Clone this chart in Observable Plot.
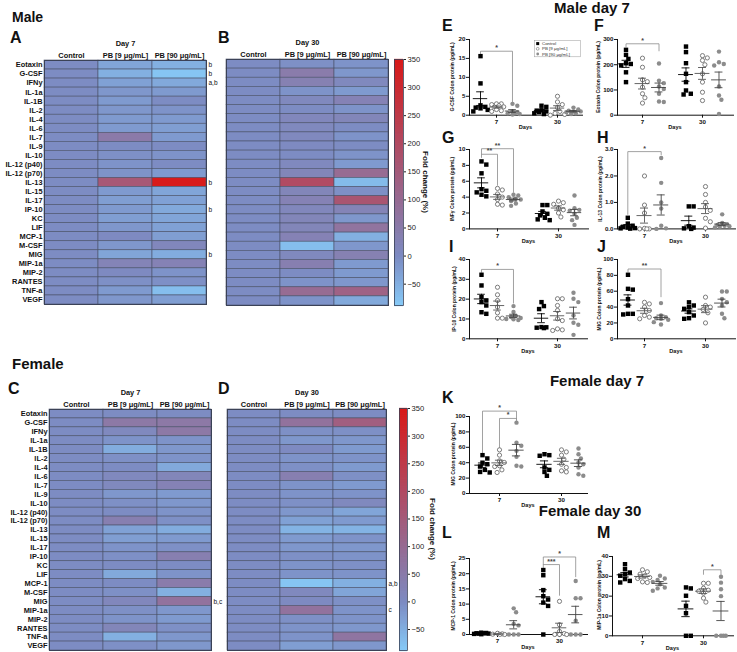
<!DOCTYPE html>
<html><head><meta charset="utf-8">
<script src="https://cdn.jsdelivr.net/npm/d3@7"></script>
<script src="https://cdn.jsdelivr.net/npm/@observablehq/plot@0.6"></script>
<style>
body{margin:0;background:#fff;}
#root{position:relative;width:737px;height:652px;overflow:hidden;background:#fff;font-family:"Liberation Sans",Arial,Helvetica,sans-serif;}
.t{position:absolute;font-weight:bold;line-height:1;white-space:nowrap;color:#111;}
.w{position:absolute;overflow:visible;}
.w svg{max-width:none !important;display:block;}
</style></head><body><div id="root"></div>
<script>
// ---------------- DATA ----------------
const cytokines = ["Eotaxin","G-CSF","IFNy","IL-1a","IL-1B","IL-2","IL-4","IL-6","IL-7","IL-9","IL-10","IL-12 (p40)","IL-12 (p70)","IL-13","IL-15","IL-17","IP-10","KC","LIF","MCP-1","M-CSF","MIG","MIP-1a","MIP-2","RANTES","TNF-a","VEGF"];
const columns = ["Control","PB [9 μg/mL]","PB [90 μg/mL]"];
const controlFold = [0,0,0,0,0,0,0,0,0,0,0,0,0,0,0,0,0,0,0,0,0,0,0,0,0,0,0];
const maleD7_pb9  = [-35,-50,-30,-15,-20,-15,-20,-20,55,0,-5,-10,-10,160,-20,-25,-20,-25,-15,5,-15,-35,25,5,-5,-20,-15];
const maleD7_pb90 = [-50,-80,-40,-20,0,-10,-20,-25,-20,0,-10,0,-20,350,-35,-30,-40,-35,-30,-25,15,-45,30,-10,-5,-70,-25];
const maleD30_pb9  = [-5,50,35,-10,10,0,15,10,10,5,0,10,20,200,20,30,15,20,20,30,-70,10,40,0,-10,100,-10];
const maleD30_pb90 = [-10,-15,10,-20,30,-10,20,0,-10,0,-10,-20,100,-65,-5,170,25,-15,75,-50,-15,35,-20,-20,-15,130,-40];
const femaleD7_pb9  = [0,60,10,-10,-45,-5,0,10,10,-15,-5,0,40,-30,-25,-10,-5,0,-40,0,-5,15,-5,-10,20,-50,-5];
const femaleD7_pb90 = [0,60,60,-10,-15,-10,-40,20,30,-20,-15,-10,-5,-45,-20,-5,40,0,-10,50,-50,80,-15,-20,-5,-15,-15];
const femaleD30_pb9  = [0,80,-5,-15,5,-10,-5,40,-10,-10,-5,-15,-30,-55,-20,-15,-5,-10,-10,-80,10,5,80,-5,-10,-10,-25];
const femaleD30_pb90 = [0,140,-5,-15,-20,-10,-20,-5,-20,-10,10,-35,-20,-55,-10,-15,-10,-5,-10,-50,-35,-5,-10,-10,-15,70,-15];
const notesA_cyt = ["Eotaxin","G-CSF","IFNy","IL-13","IP-10","MIG"];
const notesA_txt = ["b","b","a,b","b","b","b"];
const notesC_cyt = ["MIG"];
const notesC_txt = ["b,c"];
const notesD_cyt = ["MCP-1","MIP-1a"];
const notesD_txt = ["a,b","c"];
const colorbarTicks = [-50,0,50,100,150,200,250,300,350];
const colorStops = [-88, 0, 350];

const groupNames = ["Control","PB [9 μg/mL]","PB [90 μg/mL]"];
const dayLabels = ["7","30"];
// [control, PB9, PB90] per day
const E7  = [[15.6,8.4,2.6,2.2,1.8,1.4,2.0,1.0],[3.0,3.0,2.8,2.2,1.5,1.2,1.0,2.5],[3.0,2.5,1.0,0.5,0.5,0.3,0.8,0.2]];
const E30 = [[2.5,2.2,1.0,1.2,0.5,0.3,0.8,1.3],[5.0,3.5,2.8,2.0,1.0,0.5,0.2,0.0],[2.0,1.5,1.0,0.8,0.5,1.2,0.3,1.0]];
const F7  = [[259,239,223,206,203,197,170,131],[226,190,140,133,111,85,69,48],[205,137,127,114,104,85,54,52]];
const F30 = [[272,250,206,164,131,98,85,82],[236,227,217,200,164,131,91,58],[252,210,203,197,114,78,61,5]];
const G7  = [[8.5,8.1,7.0,5.0,4.6,4.3,4.1,4.8],[5.1,4.9,4.4,4.0,3.7,3.1,3.0],[4.3,4.2,4.0,3.8,3.7,3.5,3.2,2.9]];
const G30 = [[3.0,3.0,2.2,1.9,1.7,1.4,1.2,1.1],[3.5,3.3,3.1,2.6,2.4,2.0,1.5],[4.2,2.6,2.4,2.3,1.9,1.4,1.1,0.5]];
const H7  = [[0.42,0.2,0.12,0.08,0.05,0.03,0.02,0.01],[2.0,0.9,0.6,0.02,0.0,0.0,0.0],[2.68,1.74,1.0,0.77,0.12,0.02,0.0]];
const H30 = [[0.85,0.85,0.1,0.05,0.02,0.0],[1.6,1.3,1.0,0.83,0.7,0.4,0.27,0.03],[0.55,0.22,0.18,0.15,0.12,0.1,0.08,0.05]];
const I7  = [[32.3,26.9,21,19.3,18.5,16.8,13.4,12.6],[26,22.2,19.3,16,13.1,10.4,10.4],[16.5,13.5,11.5,11,10.5,10,9.8,9.5]];
const I30 = [[18.5,16.5,15,5.9,5.8,5.6,5.4],[20.2,20.2,16.8,14.3,10.1,9.2,5,4.5,4.2],[23.2,20.2,18.5,11.8,8.1,7.1,2.0]];
const J7  = [[80.7,63,62,50,42,31.5,31.5,30.7],[46,44,40,35.7,29.4,27.3,25.2],[45,29.4,27.3,25.2,24,21,18,26]];
const J30 = [[46,42,40,37.8,33.6,29.4,26,25.2],[52.5,42,40,37,32.8,20],[59.7,59.7,50.4,46,42,31.5,26]];
const K7  = [[49.8,45.5,40,38,35,30.7,28,27.3],[56.7,49.8,42.4,40.3,36,35,30.7,27.3],[92,66,62,55.4,47.6,36,35]];
const K30 = [[51,49.8,49,33.8,30.7,28,23],[56.7,54,49.8,44.6,38,33.8,29.4,28],[58.4,51,45.5,40.3,38,33.8,25,23]];
const L7  = [[0.6,0.5,0.4,0.3,0.3,0.2,0.1,0.4],[0.4,0.2,0.1,0.05,0.0],[8.6,7.3,3.5,3.0,0.0,0.0,0.0]];
const L30 = [[21.2,19.5,14.6,12.6,11.5,10.5,9.4,0.0],[10.9,3.2,1.0,0.3,0.0,0.0,0.0],[17.6,11.9,11.9,4.5,0.0,0.0,0.0]];
const M7  = [[36.1,33.6,31.9,31.1,30.3,28.6,27.7,26.9],[33.3,32.3,31.1,30.3,29.4,28.9,27.2,26.9],[30.3,28.9,28.2,27.2,26,24.4,23.9,22.7]];
const M30 = [[24.4,23.9,20.2,15.1,11.4,0.0,0.0],[26.5,26.5,24,23,22.5,21.5,19,17],[29.8,26.8,23.5,20.0,0.0,0.0,0.0,0.0]];
const ticksE = [0,5,10,15,20], ticksF = [0,100,200,300], ticksG = [0,2,4,6,8,10], ticksH = [0,1,2,3];
const ticksI = [0,10,20,30,40], ticksJ = [0,20,40,60,80,100], ticksK = [0,20,40,60,80,100];
const ticksL = [0,5,10,15,20,25], ticksM = [0,10,20,30,40];
// brackets: [day, fromGroup, toGroup, top, leftLegEnd, rightLegEnd, label]
const brE = [[7,0,2,16.9,16.2,3.5,"*"]];
const brF = [[7,0,2,283,270,255,"*"]];
const brG = [[7,0,1,9.4,9.0,5.5,"**"],[7,0,2,10.1,9.4,4.6,"**"]];
const brH = [[7,0,2,2.92,0.55,2.8,"*"]];
const brI = [[7,0,2,35,33.5,18,"*"]];
const brJ = [[7,0,2,88,84,53,"**"]];
const brK = [[7,0,2,107,53,96.5,"*"],[7,1,2,97.5,59.5,94,"*"]];
const brL = [[30,0,1,23,22,12.9,"***"],[30,0,2,25.5,23,19,"*"]];
const brM = [[30,1,2,33.3,31,31,"*"]];

// ---------------- LAYOUT / STYLE ----------------
const FONT = '"Liberation Sans", Arial, Helvetica, sans-serif';
const colorRange = ["#87cbf8", "#7d8cc3", "#d81b1b"];
const colorScale = {type: "linear", domain: colorStops, range: colorRange, clamp: true};
const root = document.getElementById("root");
function place(node, x, y, w, h) {
  const d = document.createElement("div"); d.className = "w";
  d.style.left = x + "px"; d.style.top = y + "px";
  if (w) { d.style.width = w + "px"; d.style.height = h + "px"; }
  d.appendChild(node); root.appendChild(d);
}
function sized(svg, w, h) {
  svg.style.width = w + "px"; svg.style.height = h + "px";
  return svg;
}
function label(str, x, capTop, fs, center) {
  const d = document.createElement("div"); d.className = "t"; d.textContent = str;
  d.style.fontSize = fs + "px"; d.style.top = (capTop - 0.13 * fs) + "px"; d.style.left = x + "px";
  if (center) d.style.transform = "translateX(-50%)";
  root.appendChild(d);
}
function vlabel(str, cx, cy, fs, deg, weight) {
  const d = document.createElement("div"); d.className = "t"; d.textContent = str;
  d.style.fontSize = fs + "px"; d.style.left = cx + "px"; d.style.top = cy + "px";
  d.style.fontWeight = weight || "bold";
  d.style.transform = `translate(-50%,-50%) rotate(${deg}deg)`;
  root.appendChild(d);
}

function heatmap(cfg) {
  const {series, notesCyt, notesTxt, left, top, fl, fr, ft, fb, rows, day} = cfg;
  const mL = fl - left, mT = ft - top, mR = 14, mB = 1;
  const width = mL + (fr - fl) + mR, height = mT + (fb - ft) + mB;
  const cells = [];
  cytokines.forEach((c, i) => columns.forEach((col, j) => cells.push({cyt: c, col, v: series[j][i]})));
  const notes = notesCyt.map((c, i) => ({cyt: c, t: notesTxt[i]}));
  const p = Plot.plot({
    width, height, marginLeft: mL, marginTop: mT, marginRight: mR, marginBottom: mB,
    style: {fontFamily: FONT, fontSize: "7.4px", fontWeight: "bold", background: "transparent", overflow: "visible", color: "#111"},
    x: {domain: columns, axis: "top", padding: 0, round: false, tickSize: 0, tickPadding: 3, label: day, labelAnchor: "center", labelOffset: 20, labelArrow: false},
    y: {domain: cytokines, axis: rows ? "left" : null, padding: 0, round: false, tickSize: 0, tickPadding: 2, label: null},
    color: colorScale,
    marks: [
      Plot.cell(cells, {x: "col", y: "cyt", fill: "v", stroke: "#4a5269", strokeWidth: 0.6}),
      Plot.frame({stroke: "#3b4257", strokeWidth: 1}),
      Plot.text(notes, {y: "cyt", text: "t", frameAnchor: "right", textAnchor: "start", dx: 2, fontSize: 6.5, fontWeight: "normal", fill: "#111"})
    ]
  });
  place(sized(p, width, height), left, top, width, height);
}

function colorbar(left, top, fl, fr, ft, fb) {
  const mL = fl - left, mT = ft - top, mR = 26, mB = 1;
  const width = mL + (fr - fl) + mR, height = mT + (fb - ft) + mB;
  const steps = d3.range(colorStops[0], colorStops[2] + 0.5, 0.5);
  const p = Plot.plot({
    width, height, marginLeft: mL, marginTop: mT, marginRight: mR, marginBottom: mB,
    style: {fontFamily: FONT, fontSize: "7.6px", background: "transparent", overflow: "visible", color: "#222"},
    x: {axis: null},
    y: {domain: [colorStops[0], colorStops[2]], nice: false, axis: "right", ticks: colorbarTicks, tickSize: 2, tickPadding: 2, label: null},
    color: colorScale,
    marks: [
      Plot.ruleY(steps, {y: d => d, stroke: d => d, strokeWidth: 1.3}),
      Plot.frame({stroke: "#3b4257", strokeWidth: 0.8})
    ]
  });
  place(sized(p, width, height), left, top, width, height);
}

function swarm(vals, pxY) {
  const d = 4.4, step = 2.4;
  const cands = [0, 1, -1, 2, -2, 3, -3].map(k => k * step);
  const order = vals.slice().sort((a, b) => b - a);
  const placed = [];
  for (const v of order) {
    let best = 0, bestScore = -1;
    for (const c of cands) {
      let minD = Infinity;
      for (const q of placed) minD = Math.min(minD, Math.hypot(c - q.off, (v - q.v) * pxY));
      if (minD >= d) { best = c; bestScore = Infinity; break; }
      if (minD > bestScore) { bestScore = minD; best = c; }
    }
    placed.push({v, off: best});
  }
  return placed;
}

const layoutDots = {
  E: {left: 469, right: 582, top: 39, bottom: 114.7, unit: 16, c7: 496, c30: 557, labelX: 452},
  F: {left: 617, right: 733, top: 39, bottom: 114.7, unit: 16.5, c7: 642, c30: 702, labelX: 598},
  G: {left: 469, right: 588, top: 149.3, bottom: 228.7, unit: 16, c7: 497, c30: 558, labelX: 452},
  H: {left: 617, right: 735, top: 149.3, bottom: 228.7, unit: 16.7, c7: 644, c30: 705, labelX: 600},
  I: {left: 469, right: 587, top: 259, bottom: 338.3, unit: 16, c7: 497, c30: 557, labelX: 454},
  J: {left: 617, right: 735, top: 259, bottom: 338.3, unit: 16.5, c7: 644, c30: 705, labelX: 599},
  K: {left: 469, right: 587, top: 415.7, bottom: 492.7, unit: 17, c7: 499, c30: 561, labelX: 453},
  L: {left: 469, right: 587, top: 558.3, bottom: 634.3, unit: 16.2, c7: 497, c30: 559, labelX: 453},
  M: {left: 612, right: 733, top: 555.7, bottom: 635, unit: 17.5, c7: 642, c30: 703, labelX: 599}
};

function dotPanel(key, day7, day30, yTicks, yLabel, brackets) {
  const L = layoutDots[key];
  const mL = 32, mT = 16, mR = 3, mB = 17;
  const fw = L.right - L.left, fh = L.bottom - L.top;
  const width = mL + fw + mR, height = mT + fh + mB;
  const ymax = yTicks[yTicks.length - 1];
  const pxY = fh / ymax;
  const dayPos = [0, (L.c30 - L.c7) / L.unit];
  const pts = [], stats = [];
  [day7, day30].forEach((groups, di) => groups.forEach((vals, gi) => {
    const cx = dayPos[di] + gi - 1;
    swarm(vals, pxY).forEach(p => pts.push({x: cx + p.off / L.unit, y: p.v, g: gi}));
    const m = d3.mean(vals), s = d3.deviation(vals) / Math.sqrt(vals.length);
    stats.push({cx, m, s, g: gi});
  }));
  const bLines = [], bStars = [];
  brackets.forEach((b, k) => {
    const di = b[0] === 7 ? 0 : 1;
    const x1 = dayPos[di] + b[1] - 1, x2 = dayPos[di] + b[2] - 1;
    bLines.push({k, x: x1, y: b[4]}, {k, x: x1, y: b[3]}, {k, x: x2, y: b[3]}, {k, x: x2, y: b[5]});
    bStars.push({x: (x1 + x2) / 2, y: b[3], t: b[6]});
  });
  const lineCol = ["#000", "#555", "#444"];
  const marks = [
    Plot.line(bLines, {x: "x", y: "y", z: "k", stroke: "#8a8a8a", strokeWidth: 0.8}),
    Plot.text(bStars, {x: "x", y: "y", text: "t", dy: -1, lineAnchor: "bottom", fontSize: 7, fill: "#444"}),
    Plot.dot(pts.filter(p => p.g === 0), {x: "x", y: "y", symbol: "square", r: 2.5, fill: "#000"}),
    Plot.dot(pts.filter(p => p.g === 1), {x: "x", y: "y", r: 2.1, fill: "#fff", stroke: "#6e6e6e", strokeWidth: 0.9}),
    Plot.dot(pts.filter(p => p.g === 2), {x: "x", y: "y", r: 2.2, fill: "#8c8c8c"})
  ];
  [0, 1, 2].forEach(g => {
    const st = stats.filter(s => s.g === g);
    marks.push(
      Plot.ruleY(st, {y: "m", x1: d => d.cx - 0.45, x2: d => d.cx + 0.45, stroke: lineCol[g], strokeWidth: 0.9}),
      Plot.ruleX(st, {x: "cx", y1: d => d.m - d.s, y2: d => d.m + d.s, stroke: lineCol[g], strokeWidth: 0.9}),
      Plot.ruleY(st, {y: d => d.m + d.s, x1: d => d.cx - 0.24, x2: d => d.cx + 0.24, stroke: lineCol[g], strokeWidth: 0.9}),
      Plot.ruleY(st, {y: d => d.m - d.s, x1: d => d.cx - 0.24, x2: d => d.cx + 0.24, stroke: lineCol[g], strokeWidth: 0.9})
    );
  });
  const tickName = new Map(dayPos.map((p, i) => [p, dayLabels[i]]));
  const p = Plot.plot({
    width, height, marginLeft: mL, marginTop: mT, marginRight: mR, marginBottom: mB,
    style: {fontFamily: FONT, fontSize: "6.2px", fontWeight: "bold", background: "transparent", overflow: "visible", color: "#111"},
    x: {domain: [(L.left - L.c7) / L.unit, (L.right - L.c7) / L.unit], ticks: dayPos, tickFormat: d => tickName.get(d), tickSize: 3, tickPadding: 1.5, line: true, label: null},
    y: {domain: [0, ymax], nice: false, ticks: yTicks, tickSize: 3, tickPadding: 1, line: true, label: null},
    marks
  });
  place(sized(p, width, height), L.left - mL, L.top - mT, width, height);
  vlabel(yLabel, L.labelX, (L.top + L.bottom) / 2, 5, -90);
  const days = document.createElement("div"); days.className = "t"; days.textContent = "Days";
  days.style.fontSize = "5.6px"; days.style.left = ((L.left + L.right) / 2) + "px"; days.style.top = (L.bottom + 10.5) + "px";
  days.style.transform = "translateX(-50%)";
  root.appendChild(days);
}

function legendE() {
  const ns = "http://www.w3.org/2000/svg";
  const svg = document.createElementNS(ns, "svg");
  svg.setAttribute("width", 48); svg.setAttribute("height", 18);
  svg.style.fontFamily = FONT; svg.style.fontSize = "4.4px";
  const box = document.createElementNS(ns, "rect");
  Object.entries({x: 0.5, y: 0.5, width: 46, height: 16.3, fill: "#fff", stroke: "#999", "stroke-width": 0.5}).forEach(([k, v]) => box.setAttribute(k, v));
  svg.appendChild(box);
  groupNames.forEach((name, i) => {
    const cy = 3.6 + i * 5.2;
    let sym;
    if (i === 0) { sym = document.createElementNS(ns, "rect"); Object.entries({x: 2.2, y: cy - 1.5, width: 3, height: 3, fill: "#000"}).forEach(([k, v]) => sym.setAttribute(k, v)); }
    else { sym = document.createElementNS(ns, "circle"); Object.entries({cx: 3.7, cy, r: 1.4, fill: i === 1 ? "#fff" : "#8c8c8c", stroke: i === 1 ? "#6e6e6e" : "none", "stroke-width": 0.6}).forEach(([k, v]) => sym.setAttribute(k, v)); }
    svg.appendChild(sym);
    const t = document.createElementNS(ns, "text");
    t.setAttribute("x", 8); t.setAttribute("y", cy + 1.5); t.setAttribute("fill", "#333"); t.textContent = name;
    svg.appendChild(t);
  });
  place(svg, 534, 40, 48, 18);
}

// ---------------- BUILD ----------------
label("Male", 12, 12, 14);
label("A", 10, 32, 16);
label("B", 218, 32, 16);
label("Female", 12, 358, 15);
label("C", 8, 383, 16);
label("D", 218, 383, 16);
label("Male day 7", 592, 2, 15, true);
label("Female day 7", 597, 375, 15, true);
label("Female day 30", 590, 505, 15, true);
label("E", 442, 20, 16); label("F", 594, 20, 16);
label("G", 442, 132, 16); label("H", 597, 132, 16);
label("I", 449, 241, 16); label("J", 597, 241, 16);
label("K", 442, 392, 16);
label("L", 442, 527, 16); label("M", 597, 527, 16);

heatmap({series: [controlFold, maleD7_pb9, maleD7_pb90], notesCyt: notesA_cyt, notesTxt: notesA_txt, left: 0, top: 30, fl: 44, fr: 206, ft: 60, fb: 304, rows: true, day: "Day 7"});
heatmap({series: [controlFold, maleD30_pb9, maleD30_pb90], notesCyt: [], notesTxt: [], left: 220, top: 29, fl: 226, fr: 388, ft: 59, fb: 305, rows: false, day: "Day 30"});
heatmap({series: [controlFold, femaleD7_pb9, femaleD7_pb90], notesCyt: notesC_cyt, notesTxt: notesC_txt, left: 0, top: 379, fl: 49, fr: 211, ft: 409, fb: 650, rows: true, day: "Day 7"});
heatmap({series: [controlFold, femaleD30_pb9, femaleD30_pb90], notesCyt: notesD_cyt, notesTxt: notesD_txt, left: 221, top: 379, fl: 227, fr: 386, ft: 409, fb: 650, rows: false, day: "Day 30"});
colorbar(390, 49, 394, 403, 59, 305);
colorbar(395, 398, 399, 407, 408, 650);
vlabel("Fold change (%)", 425, 182, 8, 90);
vlabel("Fold change (%)", 432, 529, 8, 90);

dotPanel("E", E7, E30, ticksE, "G-CSF Colon protein (pg/mL)", brE);
dotPanel("F", F7, F30, ticksF, "Eotaxin Colon protein (pg/mL)", brF);
dotPanel("G", G7, G30, ticksG, "INFγ Colon protein (pg/mL)", brG);
dotPanel("H", H7, H30, ticksH, "IL-13 Colon protein (pg/mL)", brH);
dotPanel("I", I7, I30, ticksI, "IP-10 Colon protein (pg/mL)", brI);
dotPanel("J", J7, J30, ticksJ, "MIG Colon protein (pg/mL)", brJ);
dotPanel("K", K7, K30, ticksK, "MIG Colon protein (pg/mL)", brK);
dotPanel("L", L7, L30, ticksL, "MCP-1 Colon protein (pg/mL)", brL);
dotPanel("M", M7, M30, ticksM, "MIP-1a Colon protein (pg/mL)", brM);
legendE();
</script></body></html>
